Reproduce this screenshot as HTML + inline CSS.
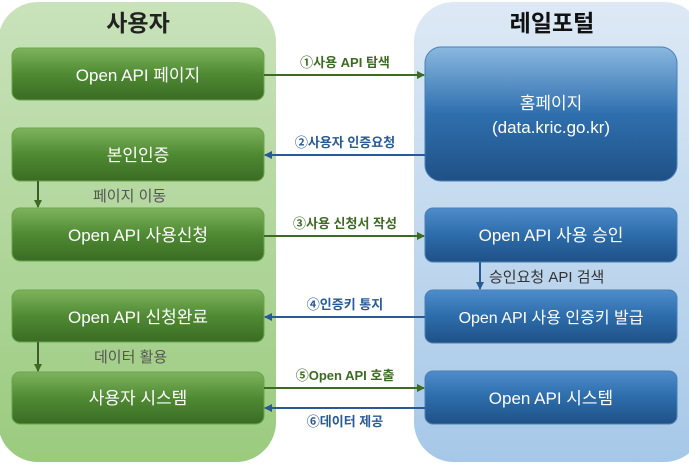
<!DOCTYPE html>
<html><head><meta charset="utf-8"><style>
html,body{margin:0;padding:0;background:#fff;}
svg{display:block;}
text{font-family:"Liberation Sans","Noto Sans CJK KR",sans-serif;}
</style></head><body>
<svg width="689" height="464" viewBox="0 0 689 464" xmlns="http://www.w3.org/2000/svg">
<defs>
<linearGradient id="lp" x1="0" y1="0" x2="0" y2="1"><stop offset="0" stop-color="#c9e2bb"/><stop offset="1" stop-color="#9acb7e"/></linearGradient>
<linearGradient id="rp" x1="0" y1="0" x2="0" y2="1"><stop offset="0" stop-color="#dde9f5"/><stop offset="1" stop-color="#a6c8e8"/></linearGradient>
<linearGradient id="gb" x1="0" y1="0" x2="0" y2="1"><stop offset="0" stop-color="#7fb35e"/><stop offset="0.5" stop-color="#4f8a33"/><stop offset="1" stop-color="#3a6c24"/></linearGradient>
<linearGradient id="bb" x1="0" y1="0" x2="0" y2="1"><stop offset="0" stop-color="#8ab8e0"/><stop offset="0.5" stop-color="#2f6fae"/><stop offset="1" stop-color="#1f5186"/></linearGradient>
<linearGradient id="bb2" x1="0" y1="0" x2="0" y2="1"><stop offset="0" stop-color="#4e8ccb"/><stop offset="0.5" stop-color="#2d6cab"/><stop offset="1" stop-color="#1f5186"/></linearGradient>
<marker id="ag" markerWidth="8" markerHeight="8" refX="7" refY="4" orient="auto" markerUnits="userSpaceOnUse"><path d="M0,0 L8,4 L0,8 z" fill="#3d6b23"/></marker>
<marker id="ab" markerWidth="8" markerHeight="8" refX="7" refY="4" orient="auto" markerUnits="userSpaceOnUse"><path d="M0,0 L8,4 L0,8 z" fill="#2a5a96"/></marker>
</defs>
<rect x="-2" y="2" width="278" height="460" rx="40" fill="url(#lp)"/>
<rect x="414" y="2" width="290" height="460" rx="40" fill="url(#rp)"/>
<text x="138" y="31" font-size="23" font-weight="bold" text-anchor="middle" fill="#222">사용자</text>
<text x="552" y="31" font-size="23" font-weight="bold" text-anchor="middle" fill="#111">레일포털</text>

<g stroke="#6aa64a" stroke-width="1">
<rect x="12" y="48" width="252" height="52" rx="8" fill="url(#gb)"/>
<rect x="12" y="128" width="252" height="53" rx="8" fill="url(#gb)"/>
<rect x="12" y="208" width="252" height="53" rx="8" fill="url(#gb)"/>
<rect x="12" y="290" width="252" height="52" rx="8" fill="url(#gb)"/>
<rect x="12" y="372" width="252" height="52" rx="8" fill="url(#gb)"/>
</g>
<g stroke="#4a7fb5" stroke-width="1">
<rect x="425" y="47" width="252" height="134" rx="16" fill="url(#bb)"/>
<rect x="425" y="208" width="252" height="54" rx="8" fill="url(#bb2)"/>
<rect x="425" y="290" width="252" height="53" rx="8" fill="url(#bb2)"/>
<rect x="425" y="371" width="252" height="53" rx="8" fill="url(#bb2)"/>
</g>
<g fill="#fff" font-size="17" text-anchor="middle">
<text x="138" y="81">Open API 페이지</text>
<text x="138" y="161">본인인증</text>
<text x="138" y="241">Open API 사용신청</text>
<text x="138" y="323">Open API 신청완료</text>
<text x="138" y="404">사용자 시스템</text>
<text x="551" y="109">홈페이지</text>
<text x="551" y="133">(data.kric.go.kr)</text>
<text x="551" y="241">Open API 사용 승인</text>
<text x="551" y="323" font-size="16">Open API 사용 인증키 발급</text>
<text x="551" y="404">Open API 시스템</text>
</g>
<g stroke-width="2" fill="none">
<line x1="264" y1="75" x2="424" y2="75" stroke="#3d6b23" marker-end="url(#ag)"/>
<line x1="425" y1="155" x2="265" y2="155" stroke="#2a5a96" marker-end="url(#ab)"/>
<line x1="264" y1="236" x2="424" y2="236" stroke="#3d6b23" marker-end="url(#ag)"/>
<line x1="425" y1="317" x2="265" y2="317" stroke="#2a5a96" marker-end="url(#ab)"/>
<line x1="264" y1="388" x2="424" y2="388" stroke="#3d6b23" marker-end="url(#ag)"/>
<line x1="425" y1="408" x2="265" y2="408" stroke="#2a5a96" marker-end="url(#ab)"/>
<line x1="38" y1="181" x2="38" y2="207" stroke="#3d5a2a" marker-end="url(#ag)"/>
<line x1="38" y1="342" x2="38" y2="371" stroke="#3d5a2a" marker-end="url(#ag)"/>
<line x1="480" y1="262" x2="480" y2="289" stroke="#2a5a96" marker-end="url(#ab)"/>
</g>
<g font-size="13" font-weight="bold" text-anchor="middle">
<text x="345" y="67" fill="#3d6b23">①사용 API 탐색</text>
<text x="345" y="147" fill="#2a5a96">②사용자 인증요청</text>
<text x="345" y="228" fill="#3d6b23">③사용 신청서 작성</text>
<text x="345" y="309" fill="#2a5a96">④인증키 통지</text>
<text x="345" y="380" fill="#3d6b23">⑤Open API 호출</text>
<text x="345" y="426" fill="#2a5a96">⑥데이터 제공</text>
</g>
<g font-size="15" fill="#555">
<text x="93" y="201">페이지 이동</text>
<text x="94" y="362">데이터 활용</text>
<text x="489" y="282" fill="#333">승인요청 API 검색</text>
</g>
</svg>
</body></html>
